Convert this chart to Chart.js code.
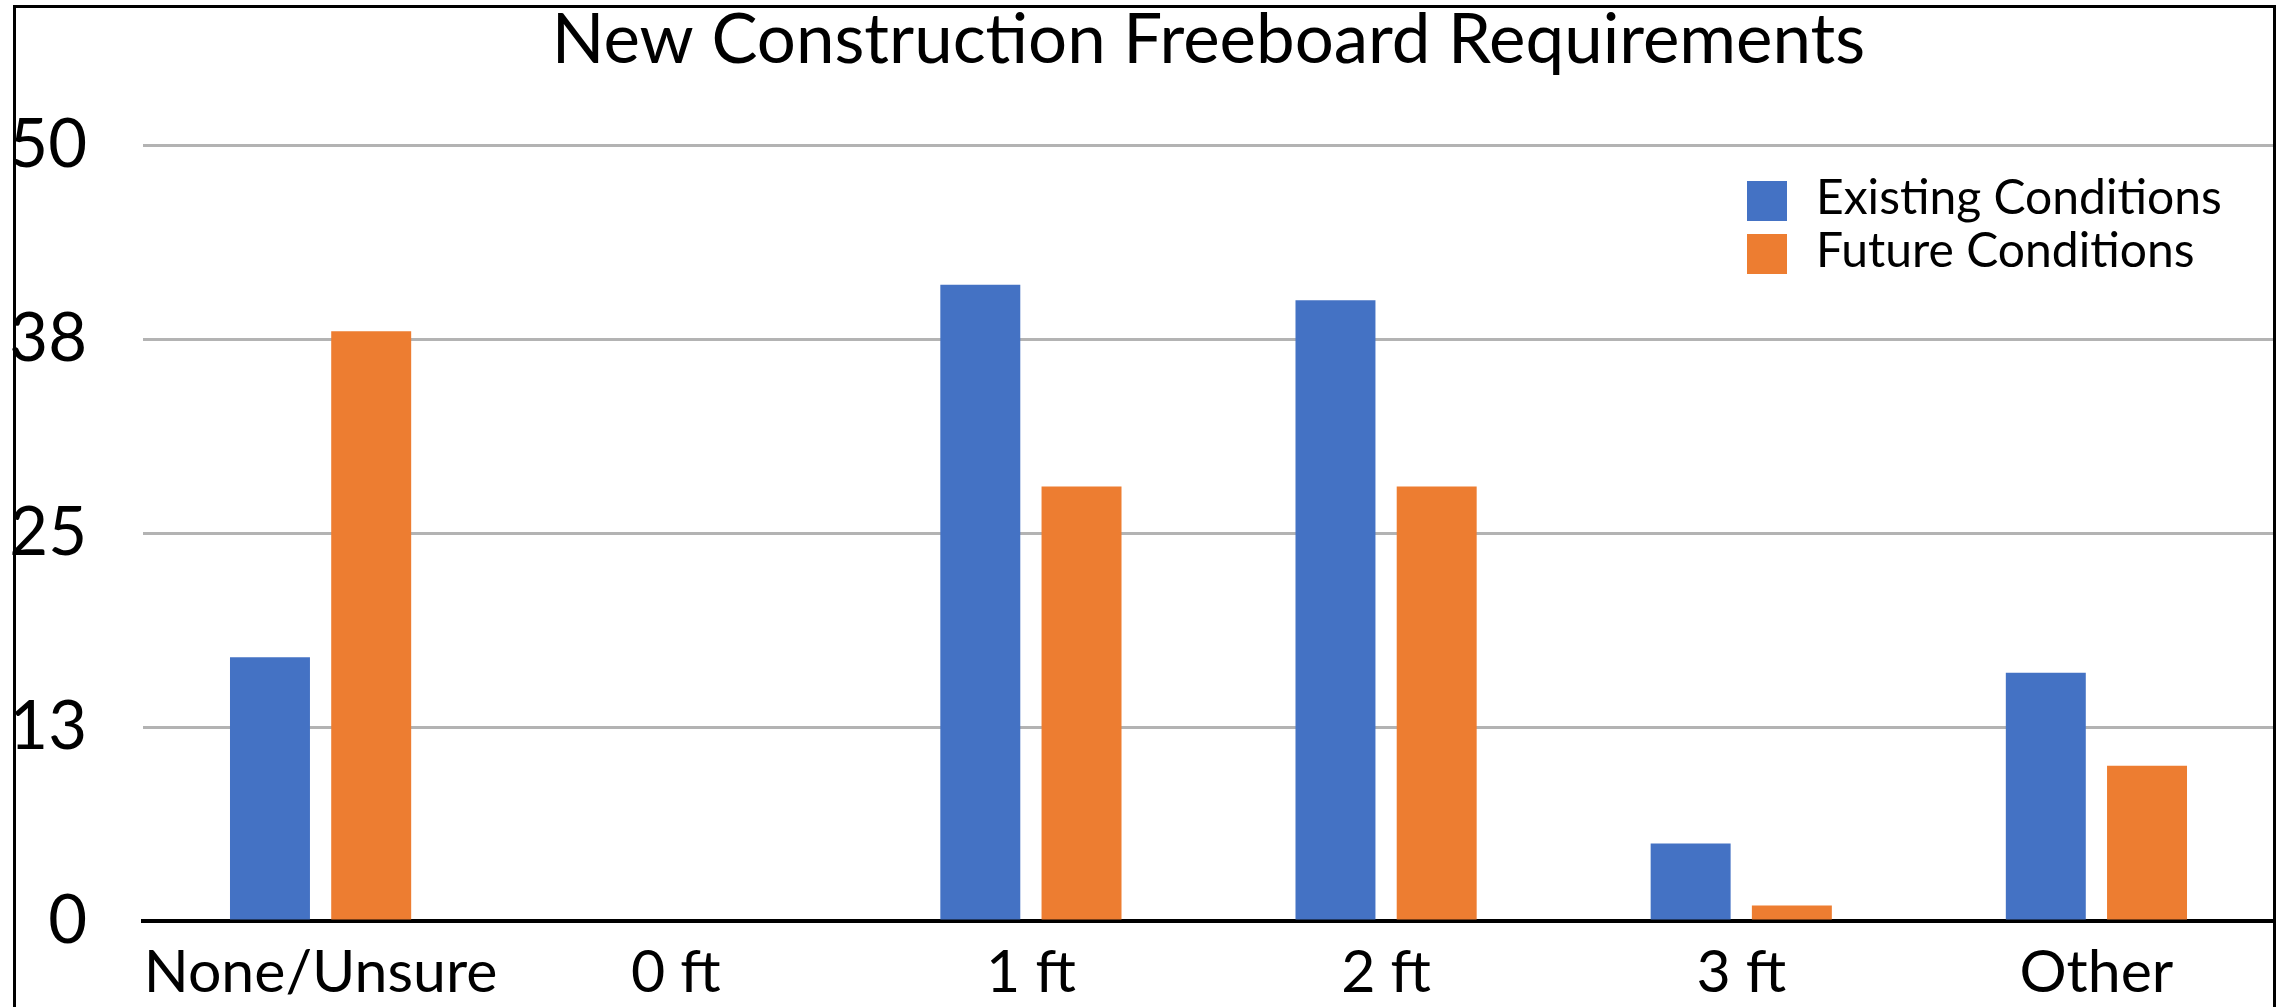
<!DOCTYPE html>
<html>
<head>
<meta charset="utf-8">
<title>New Construction Freeboard Requirements</title>
<script src="https://cdn.jsdelivr.net/npm/chart.js@4.4.1/dist/chart.umd.min.js"></script>
<style>
    html, body { margin: 0; padding: 0; background: #ffffff; }
    #wrap { width: 2280px; height: 1007px; position: relative; }
</style>
</head>
<body>
<div id="wrap"><canvas id="freeboardChart" width="2280" height="1007"></canvas></div>
<script>
const judul = 'New Construction Freeboard Requirements';
const kategori = ['None/Unsure', '0 ft', '1 ft', '2 ft', '3 ft', 'Other'];
const kondisiSekarang = [17, 0, 41, 40, 5, 16];
const kondisiMasaDepan = [38, 0, 28, 28, 1, 10];
const labelSumbuY = ['0', '13', '25', '38', '50'];

const FONT = 'Lato, "Open Sans", sans-serif';

// garis bingkai, judul dan legenda digambar sendiri
const pluginBingkai = {
    id: 'bingkai',
    afterDraw(chart) {
        const ctx = chart.ctx;
        const area = chart.chartArea;
        ctx.save();

        // bingkai luar (tanpa garis bawah)
        ctx.strokeStyle = '#000000';
        ctx.lineWidth = 3;
        ctx.beginPath();
        ctx.moveTo(14.5, chart.height);
        ctx.lineTo(14.5, 6.5);
        ctx.lineTo(2274.5, 6.5);
        ctx.lineTo(2274.5, chart.height);
        ctx.stroke();

        // judul, di tengah area plot
        ctx.fillStyle = '#000000';
        ctx.font = '69px ' + FONT;
        ctx.textAlign = 'center';
        ctx.textBaseline = 'alphabetic';
        ctx.fillText(judul, (area.left + area.right) / 2, 63);

        // legenda di pojok kanan atas
        const kiri = area.right - 527;
        let atas = 181;
        ctx.font = '48px ' + FONT;
        ctx.textAlign = 'left';
        chart.data.datasets.forEach(ds => {
            ctx.fillStyle = ds.backgroundColor;
            ctx.fillRect(kiri, atas, 40, 40);
            ctx.fillStyle = '#000000';
            ctx.fillText(ds.label, kiri + 69, atas + 33);
            atas += 53;
        });
        ctx.restore();
    }
};

function buatGrafik() {
    const ctx = document.getElementById('freeboardChart').getContext('2d');
    new Chart(ctx, {
        type: 'bar',
        data: {
            labels: kategori,
            datasets: [{
                label: 'Existing Conditions',
                data: kondisiSekarang,
                backgroundColor: '#4472C4',
                categoryPercentage: 0.57,
                barPercentage: 0.79
            }, {
                label: 'Future Conditions',
                data: kondisiMasaDepan,
                backgroundColor: '#ED7D31',
                categoryPercentage: 0.57,
                barPercentage: 0.79
            }]
        },
        options: {
            responsive: false,
            animation: false,
            layout: {
                padding: { top: 145, right: 6, bottom: 0, left: 0 }
            },
            plugins: {
                legend: { display: false },
                title: { display: false },
                tooltip: { enabled: false }
            },
            scales: {
                y: {
                    min: 0,
                    max: 50,
                    afterFit(scale) { scale.width = 143; },
                    ticks: {
                        stepSize: 12.5,
                        padding: 56,
                        color: '#000000',
                        // lineHeight kecil supaya padding bawah sumbu y tidak mendorong area plot
                        font: { family: FONT, size: 67, lineHeight: 0.85 },
                        callback: function (value, index) {
                            return labelSumbuY[index];
                        }
                    },
                    grid: {
                        color: '#b3b3b3',
                        lineWidth: 3,
                        drawTicks: false
                    },
                    border: { display: false }
                },
                x: {
                    afterFit(scale) { scale.height = 86; },
                    ticks: {
                        padding: 19,
                        autoSkip: false,
                        maxRotation: 0,
                        color: '#000000',
                        font: { family: FONT, size: 59, lineHeight: 1.13 }
                    },
                    grid: {
                        display: false,
                        drawTicks: false
                    },
                    border: {
                        display: true,
                        color: '#000000',
                        width: 4
                    }
                }
            }
        },
        plugins: [pluginBingkai]
    });
}

document.addEventListener('DOMContentLoaded', () => {
    Promise.all([
        document.fonts.load('69px Lato'),
        document.fonts.load('59px Lato')
    ]).then(buatGrafik, buatGrafik);
});
</script>
</body>
</html>
